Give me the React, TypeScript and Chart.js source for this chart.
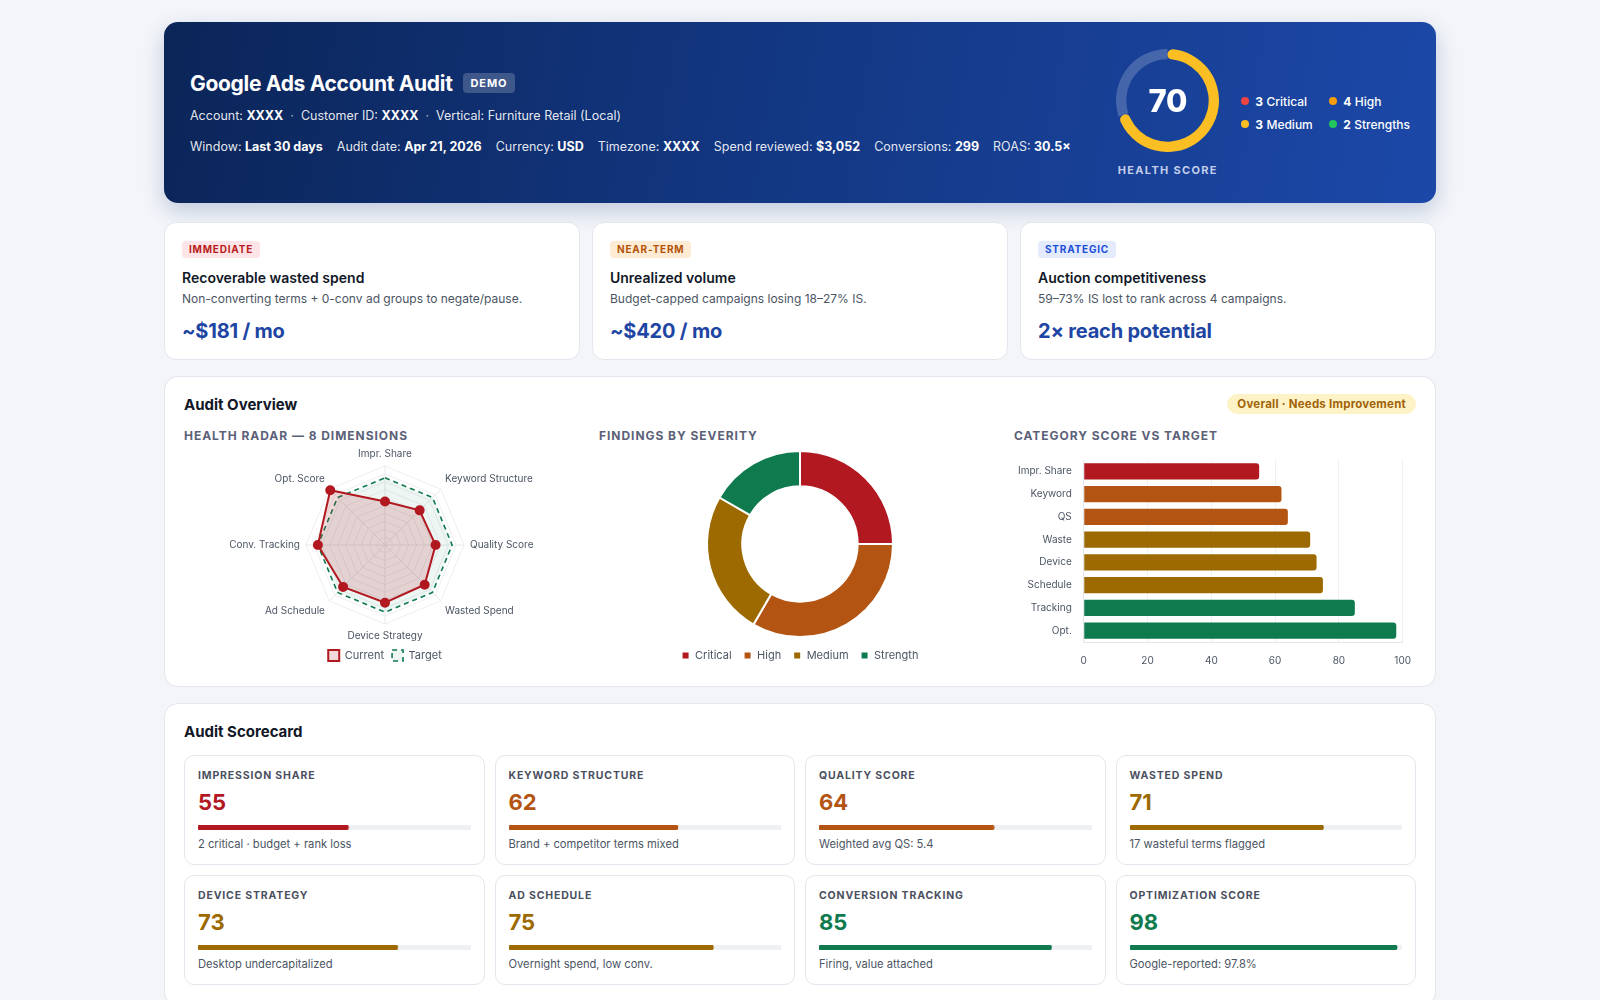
import React, { useEffect, useRef } from 'react';
import { Chart, registerables } from 'chart.js';

Chart.register(...registerables);
Chart.defaults.font.family = "Inter, 'Noto Sans', sans-serif";
Chart.defaults.color = '#4b5563';

// ---------- data ----------
const HEALTH_SCORE = 70;
const SCALE_MAX = 100;

const HEADER_LEGEND_COUNTS = [3, 4, 3, 2];
const HEADER_LEGEND_NAMES = ['Critical', 'High', 'Medium', 'Strengths'];
const HEADER_LEGEND_COLORS = ['#ef4444', '#f59e0b', '#fbbf24', '#22c55e'];

const RADAR_LABELS = ['Impr. Share', 'Keyword Structure', 'Quality Score', 'Wasted Spend', 'Device Strategy', 'Ad Schedule', 'Conv. Tracking', 'Opt. Score'];
const RADAR_CURRENT = [55, 62, 64, 71, 73, 75, 85, 98];
const RADAR_TARGET = [85, 85, 85, 85, 85, 85, 85, 85];

const SEVERITY_LABELS = ['Critical', 'High', 'Medium', 'Strength'];
const SEVERITY_COUNTS = [3, 4, 3, 2];

const BAR_LABELS = ['Impr. Share', 'Keyword', 'QS', 'Waste', 'Device', 'Schedule', 'Tracking', 'Opt.'];
const BAR_VALUES = [55, 62, 64, 71, 73, 75, 85, 98];
const BAR_SEVERITY = [0, 1, 1, 2, 2, 2, 3, 3];

const SCORE_NAMES = ['IMPRESSION SHARE', 'KEYWORD STRUCTURE', 'QUALITY SCORE', 'WASTED SPEND', 'DEVICE STRATEGY', 'AD SCHEDULE', 'CONVERSION TRACKING', 'OPTIMIZATION SCORE'];
const SCORE_VALUES = [55, 62, 64, 71, 73, 75, 85, 98];
const SCORE_SEVERITY = [0, 1, 1, 2, 2, 2, 3, 3];
const SCORE_NOTES = ['2 critical · budget + rank loss', 'Brand + competitor terms mixed', 'Weighted avg QS: 5.4', '17 wasteful terms flagged', 'Desktop undercapitalized', 'Overnight spend, low conv.', 'Firing, value attached', 'Google-reported: 97.8%'];

const SEVERITY_COLORS = ['#b1181f', '#b45412', '#9c6a00', '#0f7a4e'];

// ---------- helpers ----------
function ChartBox({ make, style }: { make: () => any; style: React.CSSProperties }) {
  const ref = useRef<HTMLCanvasElement | null>(null);
  useEffect(() => {
    const c = new Chart(ref.current as HTMLCanvasElement, make());
    return () => c.destroy();
  }, []);
  return (
    <div style={{ position: 'relative', ...style }}>
      <canvas ref={ref} />
    </div>
  );
}

const gaugeConfig = () => ({
  type: 'doughnut',
  data: {
    labels: ['Score', 'Rest'],
    datasets: [{
      data: [HEALTH_SCORE, SCALE_MAX - HEALTH_SCORE],
      backgroundColor: ['#fbbf24', 'rgba(255,255,255,0.2)'],
      borderWidth: 0,
      borderRadius: (ctx: any) => (ctx.dataIndex === 0 ? 10 : 0),
    }],
  },
  options: {
    animation: false, responsive: true, maintainAspectRatio: false, events: [],
    cutout: '80%',
    plugins: { legend: { display: false }, tooltip: { enabled: false } },
  },
});

const radarConfig = () => ({
  type: 'radar',
  data: {
    labels: RADAR_LABELS,
    datasets: [
      {
        label: 'Current', data: RADAR_CURRENT,
        borderColor: '#b1181f', backgroundColor: 'rgba(177,24,31,0.16)', borderWidth: 2,
        pointRadius: 4, pointBackgroundColor: '#b1181f', pointBorderColor: '#b1181f',
      },
      {
        label: 'Target', data: RADAR_TARGET,
        borderColor: '#0f7a4e', backgroundColor: 'rgba(15,122,78,0.07)', borderWidth: 1.6,
        borderDash: [5, 4], pointRadius: 0,
      },
    ],
  },
  options: {
    animation: false, responsive: true, maintainAspectRatio: false,
    layout: { padding: { top: 0, bottom: 0 } },
    plugins: {
      legend: { position: 'bottom', labels: { boxWidth: 11, boxHeight: 11, font: { size: 11 }, color: '#4b5563', padding: 8 } },
      tooltip: { enabled: false },
    },
    scales: {
      r: {
        min: 0, max: SCALE_MAX,
        ticks: { display: false, stepSize: 10 },
        grid: { color: '#eceef2' },
        angleLines: { color: '#e6e8ec' },
        pointLabels: { font: { size: 10 }, color: '#4b5563', padding: 6 },
      },
    },
  },
});

const donutConfig = () => ({
  type: 'doughnut',
  data: {
    labels: SEVERITY_LABELS,
    datasets: [{ data: SEVERITY_COUNTS, backgroundColor: SEVERITY_COLORS, borderColor: '#ffffff', borderWidth: 2 }],
  },
  options: {
    animation: false, responsive: true, maintainAspectRatio: false,
    cutout: '62%',
    layout: { padding: { top: 2 } },
    plugins: {
      legend: { position: 'bottom', labels: { usePointStyle: true, pointStyle: 'rect', boxWidth: 8, boxHeight: 8, font: { size: 11 }, color: '#4b5563', padding: 12 } },
      tooltip: { enabled: false },
    },
  },
});

const barConfig = () => ({
  type: 'bar',
  data: {
    labels: BAR_LABELS,
    datasets: [{ data: BAR_VALUES, backgroundColor: BAR_SEVERITY.map((s) => SEVERITY_COLORS[s]), borderRadius: 3 }],
  },
  options: {
    indexAxis: 'y', animation: false, responsive: true, maintainAspectRatio: false,
    layout: { padding: { top: 12, right: 2, bottom: 0, left: 0 } },
    plugins: { legend: { display: false }, tooltip: { enabled: false } },
    scales: {
      x: {
        min: 0, max: SCALE_MAX,
        ticks: { stepSize: 20, font: { size: 10 }, color: '#4b5563', padding: 13 },
        grid: { color: '#eef0f3', drawTicks: false },
        border: { color: '#e2e5ea' },
      },
      y: {
        ticks: { font: { size: 10 }, color: '#4b5563', padding: 4 },
        grid: { display: false },
        border: { color: '#e2e5ea' },
      },
    },
  },
});

const progressConfig = (value: number, color: string) => () => ({
  type: 'bar',
  data: {
    labels: [''],
    datasets: [
      { data: [value], backgroundColor: color, borderRadius: 3, borderSkipped: false, grouped: false, barPercentage: 1, categoryPercentage: 1, order: 0 },
      { data: [SCALE_MAX], backgroundColor: '#eef0f3', borderRadius: 3, borderSkipped: false, grouped: false, barPercentage: 1, categoryPercentage: 1, order: 1 },
    ],
  },
  options: {
    indexAxis: 'y', animation: false, responsive: true, maintainAspectRatio: false, events: [],
    layout: { padding: 0 },
    plugins: { legend: { display: false }, tooltip: { enabled: false } },
    scales: { x: { display: false, min: 0, max: SCALE_MAX }, y: { display: false } },
  },
});

// ---------- UI ----------
const subTitle: React.CSSProperties = { fontSize: 12, fontWeight: 700, letterSpacing: '0.08em', color: '#5b6178', lineHeight: '16px', marginTop: 12 };

function Kpi({ badge, badgeBg, badgeColor, title, desc, value }: any) {
  return (
    <div style={{ background: '#fff', border: '1px solid #e3e6ec', borderRadius: 12, padding: '18px 17px 15px' }}>
      <div style={{ display: 'flex' }}>
        <span style={{ fontSize: 10, fontWeight: 700, letterSpacing: '0.08em', lineHeight: '11px', padding: '3px 7px', borderRadius: 4, background: badgeBg, color: badgeColor }}>{badge}</span>
      </div>
      <div style={{ marginTop: 10, fontSize: 14, fontWeight: 600, lineHeight: '20px', color: '#111827' }}>{title}</div>
      <div style={{ marginTop: 2, fontSize: 12, lineHeight: '18px', color: '#4b5563' }}>{desc}</div>
      <div style={{ marginTop: 10, fontSize: 20, fontWeight: 700, lineHeight: '26px', color: '#1e45a3', letterSpacing: '-0.01em' }}>{value}</div>
    </div>
  );
}

function ScoreCard({ i }: { i: number }) {
  const color = SEVERITY_COLORS[SCORE_SEVERITY[i]];
  return (
    <div style={{ background: '#fff', border: '1px solid #e3e6ec', borderRadius: 10, padding: '13px 13px 12px', minWidth: 0 }}>
      <div style={{ fontSize: 10.5, fontWeight: 700, letterSpacing: '0.08em', lineHeight: '14px', color: '#4b5060' }}>{SCORE_NAMES[i]}</div>
      <div style={{ marginTop: 5, fontSize: 22, fontWeight: 700, lineHeight: '28px', color }}>{SCORE_VALUES[i]}</div>
      <ChartBox make={progressConfig(SCORE_VALUES[i], color)} style={{ marginTop: 9, height: 5, width: '100%' }} />
      <div style={{ marginTop: 6, fontSize: 11.2, lineHeight: '16px', color: '#4b5563' }}>{SCORE_NOTES[i]}</div>
    </div>
  );
}

export default function App() {
  useEffect(() => {
    document.body.style.margin = '0';
    document.body.style.background = '#f3f5f9';
    document.documentElement.style.overflow = 'hidden';
  }, []);

  const lbl = (k: string, v: string) => (
    <span style={{ whiteSpace: 'nowrap', flexShrink: 0 }}>{k} <b style={{ color: '#fff', fontWeight: 700 }}>{v}</b></span>
  );

  return (
    <div style={{ fontFamily: "Inter, 'Noto Sans', sans-serif", width: 1272, margin: '0 auto', paddingTop: 22, color: '#111827' }}>
      {/* Header */}
      <div style={{ height: 181, borderRadius: 14, background: 'linear-gradient(100deg, #0b2558 0%, #123680 45%, #1c48a8 100%)', boxShadow: '0 8px 22px rgba(20,50,120,0.22)', display: 'flex', alignItems: 'center', justifyContent: 'space-between', padding: '0 26px 0 26px', color: '#fff', boxSizing: 'border-box' }}>
        <div style={{ flex: '0 0 auto', whiteSpace: 'nowrap' }}>
          <div style={{ display: 'flex', alignItems: 'center', height: 28 }}>
            <span style={{ fontSize: 21, fontWeight: 700, letterSpacing: '-0.015em' }}>Google Ads Account Audit</span>
            <span style={{ marginLeft: 10, fontSize: 11, fontWeight: 700, letterSpacing: '0.08em', lineHeight: '12px', padding: '4px 8px', borderRadius: 4, background: 'rgba(255,255,255,0.2)' }}>DEMO</span>
          </div>
          <div style={{ marginTop: 10, fontSize: 12.5, lineHeight: '18px', color: 'rgba(255,255,255,0.9)' }}>
            {lbl('Account:', 'XXXX')}<span style={{ margin: '0 7px', opacity: 0.7 }}>·</span>
            {lbl('Customer ID:', 'XXXX')}<span style={{ margin: '0 7px', opacity: 0.7 }}>·</span>
            <span>Vertical: Furniture Retail (Local)</span>
          </div>
          <div style={{ marginTop: 13, display: 'flex', gap: 14, fontSize: 12.5, lineHeight: '18px', color: 'rgba(255,255,255,0.9)' }}>
            {lbl('Window:', 'Last 30 days')}
            {lbl('Audit date:', 'Apr 21, 2026')}
            {lbl('Currency:', 'USD')}
            {lbl('Timezone:', 'XXXX')}
            {lbl('Spend reviewed:', '$3,052')}
            {lbl('Conversions:', '299')}
            {lbl('ROAS:', '30.5×')}
          </div>
        </div>
        <div style={{ display: 'flex', alignItems: 'center', flex: '0 0 auto' }}>
          <div style={{ display: 'flex', flexDirection: 'column', alignItems: 'center' }}>
            <div style={{ position: 'relative', width: 103, height: 103 }}>
              <ChartBox make={gaugeConfig} style={{ width: 103, height: 103 }} />
              <div style={{ position: 'absolute', inset: 0, display: 'flex', alignItems: 'center', justifyContent: 'center', fontSize: 31, fontWeight: 800, letterSpacing: '-0.01em' }}>{HEALTH_SCORE}</div>
            </div>
            <div style={{ marginTop: 11, fontSize: 11, fontWeight: 700, letterSpacing: '0.12em', lineHeight: '14px', color: '#c3cdeb' }}>HEALTH SCORE</div>
          </div>
          <div style={{ marginLeft: 22, display: 'grid', gridTemplateColumns: '88px auto', rowGap: 5 }}>
            {HEADER_LEGEND_NAMES.map((n, i) => (
              <div key={n} style={{ display: 'flex', alignItems: 'center', height: 18, fontSize: 12, whiteSpace: 'nowrap' }}>
                <span style={{ width: 8, height: 8, borderRadius: 4, background: HEADER_LEGEND_COLORS[i], marginRight: 6 }} />
                <b style={{ fontWeight: 700 }}>{HEADER_LEGEND_COUNTS[i]}</b>&nbsp;<span style={{ fontWeight: 500 }}>{n}</span>
              </div>
            ))}
          </div>
        </div>
      </div>

      {/* KPI cards */}
      <div style={{ marginTop: 19, display: 'grid', gridTemplateColumns: 'repeat(3, minmax(0, 1fr))', gap: 12 }}>
        <Kpi badge="IMMEDIATE" badgeBg="#fde4e6" badgeColor="#b91c1c" title="Recoverable wasted spend" desc="Non-converting terms + 0-conv ad groups to negate/pause." value="~$181 / mo" />
        <Kpi badge="NEAR-TERM" badgeBg="#fdebd3" badgeColor="#b45309" title="Unrealized volume" desc="Budget-capped campaigns losing 18–27% IS." value="~$420 / mo" />
        <Kpi badge="STRATEGIC" badgeBg="#e3ebfd" badgeColor="#1d4ed8" title="Auction competitiveness" desc="59–73% IS lost to rank across 4 campaigns." value="2× reach potential" />
      </div>

      {/* Audit overview */}
      <div style={{ marginTop: 16, background: '#fff', border: '1px solid #e3e6ec', borderRadius: 14, padding: '15px 19px 15px' }}>
        <div style={{ display: 'flex', alignItems: 'center', justifyContent: 'space-between', height: 24 }}>
          <span style={{ fontSize: 15, fontWeight: 700, color: '#111827' }}>Audit Overview</span>
          <span style={{ fontSize: 11.5, fontWeight: 700, letterSpacing: '0.02em', color: '#a16207', background: '#fef3c7', padding: '3px 10px', borderRadius: 999, lineHeight: '14px' }}>Overall · Needs Improvement</span>
        </div>
        <div style={{ display: 'grid', gridTemplateColumns: 'repeat(3, minmax(0, 1fr))', columnGap: 13, alignItems: 'start' }}>
          <div>
            <div style={subTitle}>HEALTH RADAR — 8 DIMENSIONS</div>
            <ChartBox make={radarConfig} style={{ marginTop: 4, height: 223 }} />
          </div>
          <div>
            <div style={subTitle}>FINDINGS BY SEVERITY</div>
            <ChartBox make={donutConfig} style={{ marginTop: 4, height: 223 }} />
          </div>
          <div style={{ height: 255 }}>
            <div style={subTitle}>CATEGORY SCORE VS TARGET</div>
            <ChartBox make={barConfig} style={{ marginTop: 4, height: 232, width: 'calc(100% + 8px)' }} />
          </div>
        </div>
      </div>

      {/* Scorecard */}
      <div style={{ marginTop: 16, background: '#fff', border: '1px solid #e3e6ec', borderRadius: 14, padding: '17px 19px 20px' }}>
        <div style={{ fontSize: 15, fontWeight: 700, lineHeight: '22px', color: '#111827' }}>Audit Scorecard</div>
        <div style={{ marginTop: 12, display: 'grid', gridTemplateColumns: 'repeat(4, minmax(0, 1fr))', gap: 10 }}>
          {SCORE_NAMES.map((_, i) => <ScoreCard key={i} i={i} />)}
        </div>
      </div>
    </div>
  );
}
